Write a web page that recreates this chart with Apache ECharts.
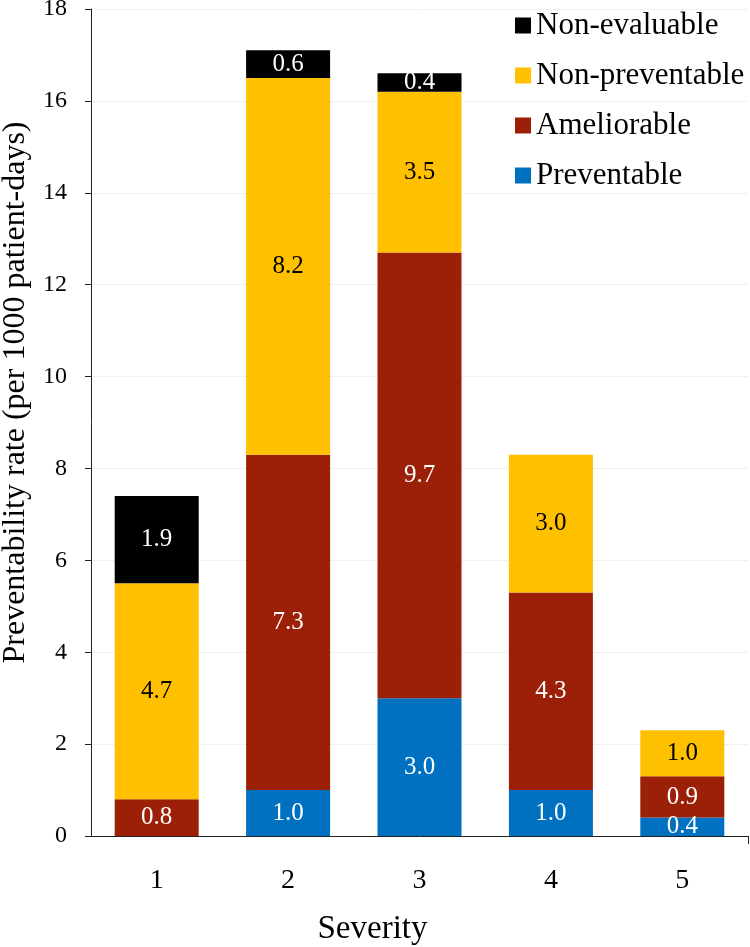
<!DOCTYPE html>
<html>
<head>
<meta charset="utf-8">
<script src="https://cdn.jsdelivr.net/npm/echarts@6/dist/echarts.min.js"></script>
<style>
html,body{margin:0;padding:0;background:#fff;}
#chart{width:750px;height:947px;}
</style>
</head>
<body>
<div id="chart"></div>
<script>
const categories = ['1', '2', '3', '4', '5'];
const preventable = [0, 1.0, 3.0, 1.0, 0.4];
const ameliorable = [0.8, 7.3, 9.7, 4.3, 0.9];
const nonPreventable = [4.7, 8.2, 3.5, 3.0, 1.0];
const nonEvaluable = [1.9, 0.6, 0.4, 0, 0];
const legendOrder = ['Non-evaluable', 'Non-preventable', 'Ameliorable', 'Preventable'];
const yTicks = { min: 0, max: 18, interval: 2 };

const FONT = "Liberation Serif";

function mkSeries(name, data, color, labelColor) {
  return {
    name: name,
    type: 'bar',
    stack: 'total',
    data: data,
    barWidth: 84,
    itemStyle: { color: color },
    label: {
      show: true,
      position: 'inside',
      color: labelColor,
      fontFamily: FONT,
      fontSize: 25,
      formatter: p => (p.value > 0 ? Number(p.value).toFixed(1) : '')
    },
    emphasis: { disabled: true }
  };
}

const chart = echarts.init(document.getElementById('chart'), null, { renderer: 'canvas' });
chart.setOption({
  animation: false,
  backgroundColor: '#fff',
  textStyle: { fontFamily: FONT },
  grid: { left: 91, right: 2, top: 9, bottom: 111, containLabel: false, outerBoundsMode: 'none' },
  legend: {
    orient: 'vertical',
    left: 515,
    top: 10,
    padding: 0,
    itemGap: 19,
    itemWidth: 16,
    itemHeight: 16,
    icon: 'rect',
    data: legendOrder,
    textStyle: { fontFamily: FONT, fontSize: 31, color: '#000' }
  },
  xAxis: [{
    type: 'category',
    data: categories,
    name: 'Severity',
    nameLocation: 'middle',
    nameGap: 77,
    nameTextStyle: { fontFamily: FONT, fontSize: 33, color: '#000', padding: [0, 94, 0, 0] },
    axisLine: { lineStyle: { color: '#222', width: 1 } },
    axisTick: { alignWithLabel: true, length: 8, lineStyle: { color: '#222' } },
    axisLabel: { fontFamily: FONT, fontSize: 28, color: '#000', margin: 31 },
    splitLine: { show: false }
  }, {
    type: 'value',
    position: 'bottom',
    min: 0.5,
    max: 5.5,
    axisLine: { show: false },
    axisLabel: { show: false },
    splitLine: { show: false },
    axisTick: { show: true, length: 8, customValues: [5.5], lineStyle: { color: '#222' } }
  }],
  yAxis: {
    type: 'value',
    min: yTicks.min,
    max: yTicks.max,
    interval: yTicks.interval,
    name: 'Preventability rate (per 1000 patient-days)',
    nameLocation: 'middle',
    nameGap: 59,
    nameTextStyle: { fontFamily: FONT, fontSize: 32, color: '#000', padding: [0, 0, 0, 60] },
    axisLine: { show: true, lineStyle: { color: '#222', width: 1 } },
    axisTick: { show: true, inside: false, length: 6, lineStyle: { color: '#222' } },
    axisLabel: { fontFamily: FONT, fontSize: 24, color: '#000', margin: 24 },
    splitLine: { show: true, lineStyle: { color: '#f0f0f0', width: 1 } }
  },
  series: [
    mkSeries('Preventable', preventable, '#0070C0', '#fff'),
    mkSeries('Ameliorable', ameliorable, '#9C2007', '#fff'),
    mkSeries('Non-preventable', nonPreventable, '#FFC000', '#000'),
    mkSeries('Non-evaluable', nonEvaluable, '#000000', '#fff')
  ]
});
</script>
</body>
</html>
